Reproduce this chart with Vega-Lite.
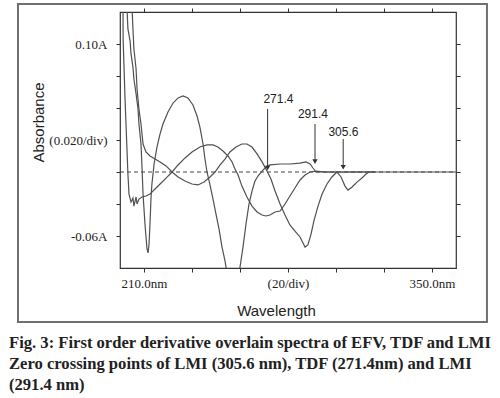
{
  "$schema": "https://vega.github.io/schema/vega-lite/v6.json",
  "width": 336,
  "height": 256,
  "autosize": {"type": "none"},
  "padding": {"left": 120, "top": 12, "right": 44, "bottom": 130},
  "background": "white",
  "title": {
    "text": ["Fig. 3: First order derivative overlain spectra of EFV, TDF and LMI", "Zero crossing points of LMI (305.6 nm), TDF (271.4nm) and LMI", "(291.4 nm)"],
    "orient": "bottom", "anchor": "start", "frame": "group", "dx": -111, "offset": 12,
    "font": "Liberation Serif", "fontSize": 16.6, "fontWeight": "bold", "color": "#222", "lineHeight": 21, "baseline": "top"
  },
  "datasets": {
    "curves": [
      {"series": "A", "wavelength": 212.9, "absorbance": 0.1031},
      {"series": "A", "wavelength": 213.3, "absorbance": 0.0894},
      {"series": "A", "wavelength": 214.2, "absorbance": 0.0819},
      {"series": "A", "wavelength": 214.6, "absorbance": 0.0738},
      {"series": "A", "wavelength": 215.4, "absorbance": 0.0656},
      {"series": "A", "wavelength": 215.8, "absorbance": 0.0581},
      {"series": "A", "wavelength": 216.7, "absorbance": 0.0488},
      {"series": "A", "wavelength": 217.5, "absorbance": 0.0394},
      {"series": "A", "wavelength": 217.9, "absorbance": 0.03},
      {"series": "A", "wavelength": 218.75, "absorbance": 0.0175},
      {"series": "A", "wavelength": 219.2, "absorbance": 0.0019},
      {"series": "A", "wavelength": 219.6, "absorbance": -0.0138},
      {"series": "A", "wavelength": 220.4, "absorbance": -0.0325},
      {"series": "A", "wavelength": 221.25, "absorbance": -0.0481},
      {"series": "A", "wavelength": 221.7, "absorbance": -0.0506},
      {"series": "A", "wavelength": 222.1, "absorbance": -0.045},
      {"series": "A", "wavelength": 222.5, "absorbance": -0.0325},
      {"series": "A", "wavelength": 222.9, "absorbance": -0.0169},
      {"series": "A", "wavelength": 223.3, "absorbance": -0.0075},
      {"series": "A", "wavelength": 224.2, "absorbance": 0.005},
      {"series": "A", "wavelength": 225.4, "absorbance": 0.0156},
      {"series": "A", "wavelength": 226.7, "absorbance": 0.0238},
      {"series": "A", "wavelength": 227.9, "absorbance": 0.03},
      {"series": "A", "wavelength": 230.0, "absorbance": 0.0375},
      {"series": "A", "wavelength": 232.1, "absorbance": 0.0431},
      {"series": "A", "wavelength": 234.2, "absorbance": 0.0463},
      {"series": "A", "wavelength": 236.25, "absorbance": 0.0475},
      {"series": "A", "wavelength": 238.3, "absorbance": 0.0463},
      {"series": "A", "wavelength": 240.4, "absorbance": 0.0419},
      {"series": "A", "wavelength": 242.1, "absorbance": 0.035},
      {"series": "A", "wavelength": 243.3, "absorbance": 0.0281},
      {"series": "A", "wavelength": 244.6, "absorbance": 0.0175},
      {"series": "A", "wavelength": 245.4, "absorbance": 0.0081},
      {"series": "A", "wavelength": 246.25, "absorbance": 0.0},
      {"series": "A", "wavelength": 247.5, "absorbance": -0.0081},
      {"series": "A", "wavelength": 248.75, "absorbance": -0.0169},
      {"series": "A", "wavelength": 250.0, "absorbance": -0.0263},
      {"series": "A", "wavelength": 251.25, "absorbance": -0.0356},
      {"series": "A", "wavelength": 252.5, "absorbance": -0.0469},
      {"series": "A", "wavelength": 253.75, "absorbance": -0.0556},
      {"series": "A", "wavelength": 255.0, "absorbance": -0.0669},
      {"series": "A", "wavelength": 257.1, "absorbance": -0.0763},
      {"series": "A", "wavelength": 258.75, "absorbance": -0.07},
      {"series": "A", "wavelength": 260.0, "absorbance": -0.0594},
      {"series": "A", "wavelength": 261.25, "absorbance": -0.0469},
      {"series": "A", "wavelength": 262.5, "absorbance": -0.0325},
      {"series": "A", "wavelength": 263.75, "absorbance": -0.02},
      {"series": "A", "wavelength": 265.0, "absorbance": -0.0119},
      {"series": "A", "wavelength": 266.25, "absorbance": -0.0056},
      {"series": "A", "wavelength": 267.5, "absorbance": -0.0025},
      {"series": "A", "wavelength": 269.2, "absorbance": 0.0006},
      {"series": "A", "wavelength": 270.8, "absorbance": 0.0031},
      {"series": "A", "wavelength": 272.5, "absorbance": 0.0044},
      {"series": "A", "wavelength": 276.7, "absorbance": 0.005},
      {"series": "A", "wavelength": 280.8, "absorbance": 0.005},
      {"series": "A", "wavelength": 285.0, "absorbance": 0.0056},
      {"series": "A", "wavelength": 287.5, "absorbance": 0.0063},
      {"series": "A", "wavelength": 289.2, "absorbance": 0.005},
      {"series": "A", "wavelength": 290.4, "absorbance": 0.0025},
      {"series": "A", "wavelength": 291.7, "absorbance": 0.0},
      {"series": "A", "wavelength": 297.5, "absorbance": 0.0},
      {"series": "A", "wavelength": 316.25, "absorbance": 0.0},
      {"series": "B", "wavelength": 211.25, "absorbance": 0.1031},
      {"series": "B", "wavelength": 211.3, "absorbance": 0.0831},
      {"series": "B", "wavelength": 211.7, "absorbance": 0.0644},
      {"series": "B", "wavelength": 212.1, "absorbance": 0.0456},
      {"series": "B", "wavelength": 212.5, "absorbance": 0.03},
      {"series": "B", "wavelength": 212.9, "absorbance": 0.0144},
      {"series": "B", "wavelength": 213.3, "absorbance": -0.0013},
      {"series": "B", "wavelength": 213.75, "absorbance": -0.0138},
      {"series": "B", "wavelength": 214.6, "absorbance": -0.0188},
      {"series": "B", "wavelength": 215.4, "absorbance": -0.0163},
      {"series": "B", "wavelength": 215.8, "absorbance": -0.0213},
      {"series": "B", "wavelength": 216.7, "absorbance": -0.0156},
      {"series": "B", "wavelength": 217.1, "absorbance": -0.02},
      {"series": "B", "wavelength": 217.9, "absorbance": -0.0169},
      {"series": "B", "wavelength": 219.2, "absorbance": -0.0156},
      {"series": "B", "wavelength": 220.8, "absorbance": -0.015},
      {"series": "B", "wavelength": 222.5, "absorbance": -0.0138},
      {"series": "B", "wavelength": 224.6, "absorbance": -0.0106},
      {"series": "B", "wavelength": 226.7, "absorbance": -0.0075},
      {"series": "B", "wavelength": 229.2, "absorbance": -0.0038},
      {"series": "B", "wavelength": 231.7, "absorbance": 0.0},
      {"series": "B", "wavelength": 234.2, "absorbance": 0.0044},
      {"series": "B", "wavelength": 237.1, "absorbance": 0.0088},
      {"series": "B", "wavelength": 240.0, "absorbance": 0.0125},
      {"series": "B", "wavelength": 243.3, "absorbance": 0.0156},
      {"series": "B", "wavelength": 246.25, "absorbance": 0.0169},
      {"series": "B", "wavelength": 248.75, "absorbance": 0.0169},
      {"series": "B", "wavelength": 250.8, "absorbance": 0.0156},
      {"series": "B", "wavelength": 252.9, "absorbance": 0.0131},
      {"series": "B", "wavelength": 255.0, "absorbance": 0.01},
      {"series": "B", "wavelength": 256.7, "absorbance": 0.0063},
      {"series": "B", "wavelength": 257.9, "absorbance": 0.0019},
      {"series": "B", "wavelength": 259.2, "absorbance": -0.0019},
      {"series": "B", "wavelength": 260.8, "absorbance": -0.0088},
      {"series": "B", "wavelength": 262.9, "absorbance": -0.0156},
      {"series": "B", "wavelength": 265.0, "absorbance": -0.0213},
      {"series": "B", "wavelength": 267.1, "absorbance": -0.025},
      {"series": "B", "wavelength": 269.2, "absorbance": -0.0269},
      {"series": "B", "wavelength": 270.8, "absorbance": -0.0275},
      {"series": "B", "wavelength": 272.5, "absorbance": -0.0269},
      {"series": "B", "wavelength": 274.6, "absorbance": -0.025},
      {"series": "B", "wavelength": 276.7, "absorbance": -0.0244},
      {"series": "B", "wavelength": 278.75, "absorbance": -0.02},
      {"series": "B", "wavelength": 280.8, "absorbance": -0.015},
      {"series": "B", "wavelength": 282.9, "absorbance": -0.01},
      {"series": "B", "wavelength": 285.0, "absorbance": -0.005},
      {"series": "B", "wavelength": 287.1, "absorbance": -0.0019},
      {"series": "B", "wavelength": 289.2, "absorbance": 0.0},
      {"series": "B", "wavelength": 291.7, "absorbance": 0.0006},
      {"series": "B", "wavelength": 295.4, "absorbance": 0.0},
      {"series": "B", "wavelength": 316.25, "absorbance": 0.0},
      {"series": "C", "wavelength": 215.0, "absorbance": 0.1031},
      {"series": "C", "wavelength": 215.4, "absorbance": 0.0894},
      {"series": "C", "wavelength": 215.8, "absorbance": 0.0769},
      {"series": "C", "wavelength": 216.7, "absorbance": 0.0644},
      {"series": "C", "wavelength": 217.1, "absorbance": 0.0519},
      {"series": "C", "wavelength": 217.9, "absorbance": 0.0394},
      {"series": "C", "wavelength": 218.75, "absorbance": 0.03},
      {"series": "C", "wavelength": 219.6, "absorbance": 0.0175},
      {"series": "C", "wavelength": 220.8, "absorbance": 0.0125},
      {"series": "C", "wavelength": 222.5, "absorbance": 0.01},
      {"series": "C", "wavelength": 224.6, "absorbance": 0.0081},
      {"series": "C", "wavelength": 226.7, "absorbance": 0.0063},
      {"series": "C", "wavelength": 229.2, "absorbance": 0.0038},
      {"series": "C", "wavelength": 231.7, "absorbance": 0.0},
      {"series": "C", "wavelength": 234.2, "absorbance": -0.0031},
      {"series": "C", "wavelength": 237.1, "absorbance": -0.0056},
      {"series": "C", "wavelength": 240.0, "absorbance": -0.0075},
      {"series": "C", "wavelength": 242.5, "absorbance": -0.0081},
      {"series": "C", "wavelength": 245.0, "absorbance": -0.0063},
      {"series": "C", "wavelength": 247.5, "absorbance": -0.0031},
      {"series": "C", "wavelength": 249.6, "absorbance": 0.0},
      {"series": "C", "wavelength": 251.7, "absorbance": 0.0044},
      {"series": "C", "wavelength": 253.75, "absorbance": 0.0081},
      {"series": "C", "wavelength": 255.8, "absorbance": 0.0125},
      {"series": "C", "wavelength": 258.3, "absorbance": 0.0156},
      {"series": "C", "wavelength": 260.8, "absorbance": 0.0175},
      {"series": "C", "wavelength": 262.9, "absorbance": 0.0175},
      {"series": "C", "wavelength": 265.0, "absorbance": 0.0156},
      {"series": "C", "wavelength": 267.1, "absorbance": 0.0113},
      {"series": "C", "wavelength": 269.2, "absorbance": 0.0063},
      {"series": "C", "wavelength": 271.25, "absorbance": 0.0006},
      {"series": "C", "wavelength": 272.9, "absorbance": -0.0044},
      {"series": "C", "wavelength": 274.6, "absorbance": -0.0119},
      {"series": "C", "wavelength": 276.7, "absorbance": -0.02},
      {"series": "C", "wavelength": 278.75, "absorbance": -0.0269},
      {"series": "C", "wavelength": 280.8, "absorbance": -0.0331},
      {"series": "C", "wavelength": 282.9, "absorbance": -0.0369},
      {"series": "C", "wavelength": 285.0, "absorbance": -0.0406},
      {"series": "C", "wavelength": 287.1, "absorbance": -0.0469},
      {"series": "C", "wavelength": 288.3, "absorbance": -0.0456},
      {"series": "C", "wavelength": 289.6, "absorbance": -0.0388},
      {"series": "C", "wavelength": 290.8, "absorbance": -0.0306},
      {"series": "C", "wavelength": 292.5, "absorbance": -0.0213},
      {"series": "C", "wavelength": 294.2, "absorbance": -0.0138},
      {"series": "C", "wavelength": 296.25, "absorbance": -0.0075},
      {"series": "C", "wavelength": 298.3, "absorbance": -0.0031},
      {"series": "C", "wavelength": 300.4, "absorbance": 0.0},
      {"series": "C", "wavelength": 302.1, "absorbance": -0.0031},
      {"series": "C", "wavelength": 303.75, "absorbance": -0.0088},
      {"series": "C", "wavelength": 305.0, "absorbance": -0.0113},
      {"series": "C", "wavelength": 306.7, "absorbance": -0.0094},
      {"series": "C", "wavelength": 308.75, "absorbance": -0.0063},
      {"series": "C", "wavelength": 310.8, "absorbance": -0.0038},
      {"series": "C", "wavelength": 312.5, "absorbance": -0.0013},
      {"series": "C", "wavelength": 313.75, "absorbance": 0.0},
      {"series": "C", "wavelength": 350.0, "absorbance": 0.0}
    ],
    "zero": [
      {"wavelength": 210, "absorbance": 0},
      {"wavelength": 350, "absorbance": 0}
    ],
    "arrows": [
      {"label": "271.4", "wavelength": 271.5, "label_wavelength": 276.0, "top": 0.0394, "tip": 0.0025, "text_at": 0.0431},
      {"label": "291.4", "wavelength": 291.25, "label_wavelength": 290.4, "top": 0.03, "tip": 0.0065, "text_at": 0.0338},
      {"label": "305.6", "wavelength": 303.0, "label_wavelength": 303.1, "top": 0.0206, "tip": 0.003, "text_at": 0.0225}
    ]
  },
  "layer": [
    {
      "data": {"values": [{}]},
      "mark": {"type": "rect", "fillOpacity": 0, "stroke": "#707070", "strokeWidth": 2, "clip": false},
      "encoding": {
        "x": {"datum": 167.5, "type": "quantitative", "scale": {"domain": [210, 350], "nice": false, "zero": false}, "axis": null},
        "x2": {"datum": 362.9},
        "y": {"datum": 0.105, "type": "quantitative", "scale": {"domain": [-0.06, 0.1], "nice": false, "zero": false}, "axis": null},
        "y2": {"datum": -0.0938}
      }
    },
    {
      "data": {"name": "zero"},
      "mark": {"type": "line", "color": "#444", "strokeWidth": 1, "strokeDash": [4, 3]},
      "encoding": {
        "x": {"field": "wavelength", "type": "quantitative", "scale": {"domain": [210, 350], "nice": false, "zero": false},
          "axis": {"orient": "top", "values": [220, 240, 260, 280, 300, 320, 340], "labels": false, "title": null, "domain": false, "grid": false, "tickSize": 4, "tickColor": "#333"}},
        "y": {"field": "absorbance", "type": "quantitative", "scale": {"domain": [-0.06, 0.1], "nice": false, "zero": false},
          "axis": {"orient": "right", "values": [-0.04, -0.02, 0, 0.02, 0.04, 0.06, 0.08], "labels": false, "title": null, "domain": false, "grid": false, "tickSize": 4, "tickColor": "#333"}}
      }
    },
    {
      "data": {"name": "curves"},
      "mark": {"type": "line", "color": "#505050", "strokeWidth": 1.2, "clip": true},
      "encoding": {
        "x": {"field": "wavelength", "type": "quantitative", "scale": {"domain": [210, 350], "nice": false, "zero": false},
          "axis": {"orient": "bottom", "values": [220, 240, 260, 280, 300, 320, 340],
            "labelExpr": "datum.value == 220 ? '210.0nm' : datum.value == 280 ? '(20/div)' : datum.value == 340 ? '350.0nm' : ''",
            "title": "Wavelength", "domain": false, "grid": false, "tickSize": 4, "tickColor": "#333",
            "labelFont": "Liberation Serif", "labelFontSize": 13, "labelColor": "#222", "labelBaseline": "alphabetic", "labelPadding": 15,
            "labelOverlap": false, "labelFlush": false,
            "titleFont": "Liberation Sans", "titleFontSize": 15, "titleFontWeight": "normal", "titleColor": "#222",
            "titleX": 156, "titleY": 47, "titleBaseline": "alphabetic", "titleAlign": "center"}},
        "y": {"field": "absorbance", "type": "quantitative", "scale": {"domain": [-0.06, 0.1], "nice": false, "zero": false},
          "axis": {"orient": "left", "values": [-0.04, -0.02, 0, 0.02, 0.04, 0.06, 0.08],
            "labelExpr": "datum.value == 0.08 ? '0.10A' : datum.value == 0.02 ? '(0.020/div)' : datum.value == -0.04 ? '-0.06A' : ''",
            "title": "Absorbance", "domain": false, "grid": false, "tickSize": 4, "tickColor": "#333",
            "labelFont": "Liberation Serif", "labelFontSize": 13, "labelColor": "#222", "labelPadding": 9, "labelOverlap": false, "labelFlush": false,
            "titleFont": "Liberation Sans", "titleFontSize": 15, "titleFontWeight": "normal", "titleColor": "#222",
            "titleX": -77, "titleY": 110, "titleAngle": -90, "titleBaseline": "alphabetic", "titleAlign": "center"}},
        "detail": {"field": "series"}
      }
    },
    {
      "data": {"name": "arrows"},
      "mark": {"type": "rule", "color": "#333", "strokeWidth": 1},
      "encoding": {
        "x": {"field": "wavelength", "type": "quantitative", "scale": {"domain": [210, 350], "nice": false, "zero": false}, "axis": null},
        "y": {"field": "top", "type": "quantitative", "scale": {"domain": [-0.06, 0.1], "nice": false, "zero": false}, "axis": null},
        "y2": {"field": "tip"}
      }
    },
    {
      "data": {"name": "arrows"},
      "mark": {"type": "point", "shape": "triangle-down", "filled": true, "color": "#333", "size": 28, "opacity": 1},
      "encoding": {
        "x": {"field": "wavelength", "type": "quantitative", "scale": {"domain": [210, 350], "nice": false, "zero": false}, "axis": null},
        "y": {"field": "tip", "type": "quantitative", "scale": {"domain": [-0.06, 0.1], "nice": false, "zero": false}, "axis": null}
      }
    },
    {
      "data": {"name": "arrows"},
      "mark": {"type": "text", "font": "Liberation Sans", "fontSize": 12, "color": "#222", "baseline": "alphabetic", "align": "center"},
      "encoding": {
        "x": {"field": "label_wavelength", "type": "quantitative", "scale": {"domain": [210, 350], "nice": false, "zero": false}, "axis": null},
        "y": {"field": "text_at", "type": "quantitative", "scale": {"domain": [-0.06, 0.1], "nice": false, "zero": false}, "axis": null},
        "text": {"field": "label"}
      }
    }
  ],
  "resolve": {"axis": {"x": "independent", "y": "independent"}},
  "config": {
    "view": {"stroke": "#333", "strokeWidth": 1.2},
    "axis": {"grid": false}
  }
}
